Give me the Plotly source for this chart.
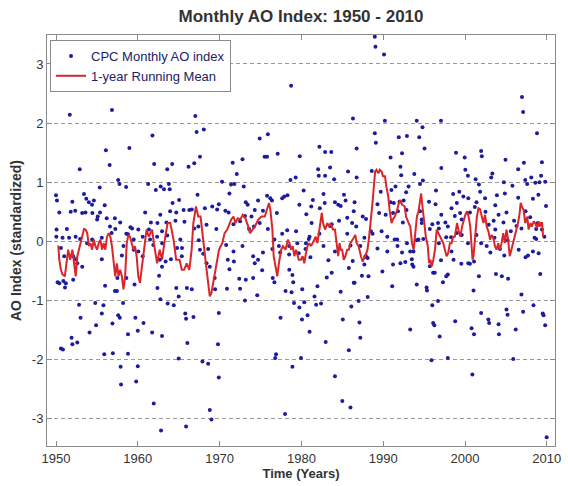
import plotly.graph_objects as go

# ---- data ----
dot_years = [
    1958.93, 1951.69, 1956.84, 1956.10, 1958.97, 1952.90, 1956.56, 1957.60, 1957.76, 1958.57,
    1955.35, 1950.00, 1950.12, 1953.42, 1953.70, 1954.02, 1954.63, 1954.40, 1955.95, 1952.00,
    1952.35, 1951.80, 1950.40, 1953.20, 1953.60, 1954.45, 1955.03, 1955.38, 1955.10, 1956.20,
    1957.20, 1956.60, 1957.25, 1959.10, 1959.30, 1960.06, 1960.90, 1950.04, 1950.07, 1950.80,
    1951.33, 1951.60, 1952.40, 1952.95, 1953.80, 1956.80, 1958.60, 1958.80, 1959.50, 1950.60,
    1951.00, 1952.10, 1952.40, 1952.60, 1953.20, 1955.60, 1958.05, 1959.50, 1960.60, 1950.20,
    1950.40, 1950.90, 1951.10, 1952.10, 1956.00, 1957.20, 1957.45, 1957.50, 1958.60, 1959.60,
    1952.82, 1953.00, 1954.80, 1955.80, 1955.60, 1957.60, 1957.80, 1958.20, 1959.70, 1960.70,
    1960.00, 1954.10, 1954.90, 1956.90, 1958.80, 1950.60, 1950.85, 1951.90, 1952.00, 1952.60,
    1955.90, 1956.95, 1958.80, 1957.90, 1960.00, 1957.95, 1959.80,
    1957.85, 1954.42, 1955.60, 1958.25, 1960.06, 1960.60, 1951.20,
    # 1961 - 1973
    1967.03, 1967.19, 1968.07, 1961.79, 1962.00, 1963.60, 1964.20, 1966.20, 1966.90, 1967.60,
    1971.60, 1972.80, 1972.10, 1970.30, 1961.27, 1962.80, 1963.80, 1963.90, 1963.20, 1967.30,
    1965.05, 1971.40, 1971.80, 1972.95, 1971.20, 1973.20, 1962.20, 1964.25, 1963.95, 1964.70,
    1965.60, 1966.30, 1966.60, 1968.20, 1969.10, 1969.70, 1969.90, 1970.70, 1971.10, 1962.75,
    1961.60, 1962.40, 1963.50, 1964.60, 1965.70, 1966.90, 1967.40, 1968.40, 1969.60, 1971.70,
    1973.10, 1972.50, 1973.60, 1962.96, 1963.60, 1965.20, 1961.50, 1961.90, 1964.80, 1965.40,
    1967.45, 1967.60, 1968.60, 1970.80, 1971.70, 1972.80, 1962.70, 1963.40, 1964.05, 1962.96,
    1962.60, 1968.00, 1968.40, 1968.80, 1971.00, 1971.20, 1971.75, 1972.40, 1973.20, 1962.40,
    1964.70, 1965.00, 1966.00, 1966.60, 1969.40, 1969.45, 1970.90, 1972.50, 1973.10, 1962.76,
    1963.65, 1964.40, 1965.80, 1965.90, 1966.80, 1969.90, 1961.75, 1962.96, 1966.06, 1969.80,
    1965.00, 1967.90, 1968.60, 1969.90, 1961.95, 1962.84, 1965.90, 1968.80, 1969.00,
    1973.43, 1961.35, 1962.36, 1962.98, 1965.38,
    # 1974 - 1986
    1978.74, 1986.30, 1974.90, 1975.90, 1975.50, 1975.80, 1977.10, 1979.80, 1982.20, 1982.90,
    1983.65, 1978.66, 1979.30, 1982.04, 1982.12, 1982.90, 1983.50, 1984.00, 1985.70, 1980.27,
    1975.80, 1976.20, 1976.40, 1974.70, 1977.65, 1977.90, 1978.30, 1979.75, 1981.40, 1982.70,
    1982.85, 1982.25, 1984.10, 1984.50, 1984.80, 1985.20, 1985.40, 1986.40, 1974.30, 1973.90,
    1975.30, 1977.00, 1981.20, 1980.60, 1983.70, 1984.60, 1985.60, 1974.90, 1974.20, 1977.65,
    1978.26, 1979.35, 1981.25, 1981.00, 1983.50, 1985.60, 1975.90, 1976.70, 1977.25, 1978.50,
    1979.50, 1980.55, 1982.70, 1984.10, 1986.00, 1974.10, 1974.30, 1974.70, 1975.30, 1977.40,
    1978.50, 1980.50, 1981.10, 1983.30, 1985.80, 1974.10, 1975.20, 1976.50, 1976.70, 1978.52,
    1978.90, 1979.00, 1980.10, 1981.96, 1983.10, 1986.40, 1974.60, 1978.06, 1978.80, 1979.10,
    1979.75, 1980.35, 1981.60, 1981.80, 1982.40, 1984.80, 1986.10, 1977.45, 1980.07, 1980.75,
    1981.00, 1982.97, 1985.06, 1976.90, 1976.80, 1979.95, 1985.80, 1978.90, 1984.10, 1985.00,
    1986.00, 1978.00,
    1982.20, 1980.90, 1983.70, 1979.67, 1986.20, 1976.45,
    # 1986 - 1998
    1988.97, 1989.05, 1990.10, 1986.75, 1990.20, 1994.10, 1994.80, 1997.06, 1988.97, 1989.10,
    1991.90, 1992.90, 1994.40, 1995.05, 1998.90, 1990.90, 1992.30, 1992.10, 1992.20, 1993.80,
    1997.10, 1986.75, 1988.60, 1994.50, 1994.85, 1993.10, 1991.50, 1989.70, 1991.00, 1996.45,
    1998.55, 1992.80, 1986.50, 1990.90, 1991.30, 1992.50, 1991.99, 1992.85, 1995.60, 1996.40,
    1989.30, 1987.50, 1987.90, 1989.50, 1990.30, 1991.20, 1991.80, 1994.50, 1994.70, 1998.35,
    1998.75, 1997.10, 1992.40, 1996.00, 1996.70, 1997.60, 1997.90, 1995.70, 1997.70, 1998.30,
    1986.70, 1988.50, 1989.80, 1990.50, 1991.40, 1991.70, 1992.90, 1994.10, 1994.30, 1994.90,
    1996.80, 1987.70, 1987.20, 1989.30, 1990.50, 1991.75, 1992.30, 1993.30, 1993.50, 1992.70,
    1987.90, 1998.35, 1997.06, 1997.70, 1997.90, 1998.60, 1986.27, 1987.70, 1989.90, 1991.20,
    1992.10, 1993.55, 1995.70, 1996.30, 1986.50, 1987.40, 1988.20, 1991.10, 1994.10, 1995.30,
    1995.35, 1996.00, 1996.70, 1997.30, 1987.00, 1988.10, 1987.10, 1987.20, 1993.30, 1996.10,
    1996.25, 1996.90, 1998.80, 1995.90, 1997.90,
    1994.70, 1996.80, 1988.70, 1993.70, 1987.80, 1988.10, 1993.70, 1996.10,
    # 1999 - 2009
    2006.96, 2007.10, 2008.80, 1999.96, 2001.97, 2002.05, 2004.95, 2007.20, 2009.40, 2006.50,
    2000.04, 2000.36, 2001.30, 2001.70, 2003.20, 2003.34, 2004.75, 2005.80, 2007.36, 2007.60,
    2008.10, 2008.60, 2009.30, 2009.80, 1999.30, 2001.85, 2003.90, 2004.87, 2006.50, 2008.30,
    2008.97, 2009.90, 1999.00, 1999.80, 2000.40, 2001.20, 2001.40, 2002.45, 2003.70, 2005.07,
    2004.10, 2006.00, 2007.40, 2008.70, 2008.90, 1999.40, 1999.60, 2000.60, 2002.90, 2002.50,
    2003.50, 2003.70, 2004.70, 2005.60, 2006.30, 2008.50, 2008.70, 2009.40, 2009.70, 1999.00,
    1999.60, 2001.40, 2002.65, 2003.10, 2004.27, 2004.80, 2006.56, 2007.40, 2007.70, 2008.30,
    2009.00, 1999.55, 2000.40, 2000.60, 2001.10, 2001.70, 2001.04, 2003.78, 2004.50, 2005.27,
    2009.20, 2006.90, 2008.37, 2007.10, 2005.07, 2005.20, 2009.50, 2009.60, 2009.80, 2001.97,
    2002.85, 2002.95, 2000.80, 2001.10, 2004.10, 2004.15, 2006.20, 2005.90, 2000.90, 2009.98,
    2000.36, 2001.97, 2003.60, 2005.20, 2006.90, 2007.97, 2009.10,
]

dot_values = [
    2.71, 2.14, 2.22, 1.54, 1.58, 1.22, 1.29, 1.04, 0.97, 0.92,
    0.91, 0.78, 0.69, 0.80, 0.72, 0.66, 0.69, 0.62, 0.61, 0.67,
    0.52, 0.50, 0.49, 0.48, 0.49, 0.48, 0.37, 0.49, 0.42, 0.39,
    0.39, 0.25, 0.21, 0.24, 0.22, 0.20, 0.49, 0.08, 0.20, 0.06,
    0.21, 0.06, 0.08, 0.04, -0.03, 0.14, 0.13, 0.12, 0.03, -0.11,
    -0.25, -0.25, -0.30, -0.37, -0.43, -0.30, -0.24, -0.14, -0.25, -0.69,
    -0.71, -0.67, -0.78, -0.65, -0.75, -0.84, -0.84, -0.62, -0.62, -0.73,
    -1.07, -1.29, -1.04, -1.08, -1.22, -1.25, -1.29, -1.04, -1.29, -1.38,
    -1.51, -1.54, -1.42, -1.39, -1.57, -1.81, -1.83, -1.63, -1.74, -1.71,
    -1.91, -1.89, -1.90, -2.12, -2.11, -2.42, -2.37,
    0.32, 0.03, 0.06, -0.08, -0.17, 0.08, -0.71,
    # 1961 - 1973
    2.12, 1.85, 1.89, 1.79, 1.31, 1.22, 1.31, 1.26, 1.32, 1.43,
    1.33, 1.39, 1.14, 1.01, 0.97, 0.93, 0.97, 0.88, 0.88, 0.79,
    0.70, 0.96, 0.97, 0.93, 0.81, 0.66, 0.87, 0.65, 0.51, 0.49,
    0.53, 0.53, 0.54, 0.56, 0.59, 0.54, 0.63, 0.52, 0.49, 0.45,
    0.32, 0.31, 0.32, 0.35, 0.33, 0.22, 0.25, 0.28, 0.21, 0.29,
    0.43, 0.34, 0.21, 0.17, 0.10, 0.03, 0.03, -0.06, -0.11, -0.11,
    0.02, -0.14, -0.13, -0.06, -0.17, -0.08, -0.31, -0.34, -0.30, -0.43,
    -0.58, -0.21, -0.37, -0.43, -0.31, -0.47, -0.34, -0.63, -0.65, -0.79,
    -0.79, -0.93, -0.79, -0.81, -0.62, -0.81, -0.80, -0.80, -1.00, -0.98,
    -1.05, -1.08, -1.22, -1.31, -1.28, -1.21, -1.54, -1.60, -1.72, -1.74,
    -1.98, -2.03, -2.07, -2.30, -2.74, -3.20, -3.13, -2.85, -3.01,
    0.62, 0.20, 0.08, -0.03, -0.25,
    # 1974 - 1986
    2.63, 2.08, 1.74, 1.81, 1.43, 1.43, 1.48, 1.44, 1.60, 1.51,
    1.51, 1.04, 1.08, 1.22, 1.11, 1.11, 1.25, 1.05, 1.18, 0.86,
    0.77, 0.73, 0.69, 0.69, 0.73, 0.76, 0.78, 0.62, 0.70, 0.80,
    0.65, 0.56, 0.66, 0.62, 0.60, 0.79, 0.69, 0.51, 0.53, 0.42,
    0.52, 0.48, 0.59, 0.46, 0.29, 0.35, 0.40, 0.31, 0.25, 0.13,
    0.19, 0.17, 0.31, 0.08, 0.26, 0.13, 0.21, 0.03, -0.08, -0.08,
    -0.03, -0.03, -0.08, -0.17, -0.07, -0.25, -0.37, -0.31, -0.19, -0.19,
    -0.22, -0.13, -0.27, -0.32, -0.45, -0.62, -0.49, -0.62, -0.69, -0.48,
    -0.57, -0.69, -0.81, -0.76, -0.61, -0.70, -0.91, -0.84, -0.86, -1.04,
    -1.12, -1.03, -0.93, -1.07, -1.05, -0.85, -1.10, -1.29, -1.32, -1.25,
    -1.53, -1.70, -1.32, -1.91, -1.97, -1.97, -1.84, -2.12, -2.28, -2.70,
    -2.81, -2.92,
    0.13, 0.04, -0.53, -0.20, 0.31, -0.13,
    # 1986 - 1998
    3.46, 3.29, 3.16, 1.57, 2.04, 2.04, 1.93, 2.04, 1.83, 1.67,
    1.76, 1.78, 1.76, 1.57, 1.50, 1.42, 1.49, 1.26, 1.12, 1.14,
    1.24, 1.08, 1.19, 0.97, 1.03, 0.93, 0.93, 0.84, 0.87, 0.86,
    0.80, 0.83, 0.66, 0.66, 0.65, 0.69, 0.67, 0.53, 0.67, 0.63,
    0.63, 0.42, 0.38, 0.48, 0.45, 0.48, 0.51, 0.51, 0.37, 0.56,
    0.43, 0.45, 0.32, 0.29, 0.31, 0.32, 0.25, 0.21, 0.07, 0.07,
    0.25, 0.17, 0.17, 0.08, 0.03, 0.03, -0.03, 0.02, 0.03, 0.04,
    -0.03, 0.06, -0.08, -0.12, -0.17, -0.08, -0.19, -0.17, -0.30, -0.35,
    -0.25, -0.17, -0.32, -0.59, -0.56, -0.31, -0.33, -0.39, -0.51, -0.39,
    -0.37, -0.39, -0.42, -0.53, -0.70, -0.58, -0.59, -0.76, -0.73, -0.78,
    -0.83, -1.08, -1.01, -0.69, -1.01, -0.94, -1.37, -1.63, -1.49, -1.38,
    -1.42, -1.61, -1.35, -2.01, -1.97,
    0.31, 0.22, 0.13, -0.17, -0.26, -0.28, -0.43, -0.53,
    # 1999 - 2009
    2.44, 2.19, 1.83, 1.42, 1.53, 1.44, 1.38, 1.33, 1.34, 1.22,
    1.21, 1.11, 1.05, 0.96, 1.08, 1.15, 1.00, 0.94, 1.04, 0.97,
    1.08, 0.99, 1.11, 1.01, 0.84, 0.84, 0.78, 0.81, 0.74, 0.72,
    0.79, 0.60, 0.65, 0.76, 0.73, 0.58, 0.66, 0.73, 0.61, 0.49,
    0.45, 0.35, 0.51, 0.21, 0.31, 0.48, 0.37, 0.49, 0.28, 0.50,
    0.35, 0.20, 0.32, 0.17, 0.26, 0.06, 0.04, 0.20, 0.08, 0.14,
    0.11, 0.11, -0.08, -0.19, -0.13, -0.24, -0.14, -0.27, -0.24, -0.17,
    -0.20, -0.38, -0.37, -0.38, -0.34, -0.59, -0.83, -0.55, -0.59, -0.63,
    -0.55, -0.90, -1.08, -1.19, -1.15, -1.24, -1.22, -1.25, -1.42, -1.21,
    -1.32, -1.38, -1.47, -1.57, -1.40, -1.57, -1.49, -1.99, -2.25, -3.31,
    -0.03, -0.03, 0.06, 0.02, 0.22, 0.41, 1.00,
]

mean_years = [
    1950.28, 1950.40, 1950.60, 1950.80, 1951.08, 1951.32, 1951.49, 1951.73, 1952.01, 1952.21,
    1952.41, 1952.61, 1952.81, 1953.01, 1953.21, 1953.42, 1953.62, 1953.82, 1954.02, 1954.22,
    1954.42, 1954.62, 1954.82, 1955.02, 1955.23, 1955.43, 1955.63, 1955.83, 1956.03, 1956.24,
    1956.44, 1956.64, 1956.84, 1957.04, 1957.24, 1957.44, 1957.64, 1957.85, 1958.05, 1958.25,
    1958.45, 1958.65, 1958.85, 1959.05, 1959.26, 1959.46, 1959.66, 1959.86, 1960.06, 1960.26,
    1960.46, 1960.66, 1960.87, 1961.07,
    1961.35, 1961.75, 1961.96, 1962.36, 1962.68, 1962.96, 1963.36, 1963.65, 1963.97, 1964.37,
    1964.69, 1965.10, 1965.38, 1965.66, 1965.98, 1966.30, 1966.58, 1966.79, 1967.11, 1967.39,
    1967.67, 1967.99, 1968.32, 1968.60, 1968.80, 1969.00, 1969.20, 1969.40, 1969.60, 1969.93,
    1970.33, 1970.61, 1970.93, 1971.42, 1971.70, 1971.94, 1972.22, 1972.54, 1972.82, 1973.15,
    1973.43, 1973.71,
    1974.03, 1974.31, 1974.72, 1975.12, 1975.52, 1975.80, 1976.04, 1976.21, 1976.45, 1976.61,
    1976.85, 1977.05, 1977.25, 1977.53, 1977.74, 1978.06, 1978.34, 1978.54, 1978.74, 1978.94,
    1979.14, 1979.35, 1979.67, 1979.95, 1980.15, 1980.35, 1980.55, 1980.75, 1980.96, 1981.16,
    1981.36, 1981.76, 1981.96, 1982.24, 1982.49, 1982.65, 1982.89, 1983.17, 1983.37, 1983.57,
    1983.85, 1984.10, 1984.26, 1984.50, 1984.66, 1984.82, 1984.98, 1985.18, 1985.38, 1985.59,
    1985.79, 1985.99, 1986.27,
    1986.59, 1986.75, 1986.99, 1987.28, 1987.48, 1987.80, 1988.08, 1988.28, 1988.48, 1988.69,
    1988.89, 1989.01, 1989.17, 1989.41, 1989.57, 1989.81, 1989.97, 1990.22, 1990.38, 1990.62,
    1990.78, 1991.02, 1991.18, 1991.42, 1991.70, 1991.91, 1992.11, 1992.31, 1992.63, 1992.79,
    1993.11, 1993.31, 1993.52, 1993.72, 1993.92, 1994.12, 1994.32, 1994.52, 1994.64, 1994.80,
    1995.05, 1995.21, 1995.45, 1995.61, 1995.77, 1995.93, 1996.13, 1996.33, 1996.54, 1996.74,
    1996.94, 1997.14, 1997.34, 1997.54, 1997.74, 1997.94, 1998.15, 1998.35, 1998.55, 1998.75,
    1999.03, 1999.23, 1999.43, 1999.64, 1999.84, 2000.04, 2000.24, 2000.44, 2000.64, 2000.76,
    2000.92, 2001.04, 2001.16, 2001.33, 2001.45, 2001.65, 2001.85, 2002.05, 2002.25, 2002.45,
    2002.65, 2002.86, 2003.06, 2003.26, 2003.46, 2003.66, 2003.86, 2004.06, 2004.26, 2004.47,
    2004.67, 2004.87, 2005.07, 2005.27, 2005.47, 2005.67, 2005.88, 2006.08, 2006.28, 2006.48,
    2006.68, 2006.80, 2006.96, 2007.16, 2007.36, 2007.61, 2007.77, 2008.01, 2008.17, 2008.41,
    2008.57, 2008.81, 2008.98, 2009.14, 2009.30, 2009.42, 2009.54,
]

mean_values = [
    -0.07, -0.31, -0.48, -0.56, -0.59, -0.31, -0.14, -0.31, -0.14, -0.37,
    -0.59, -0.25, -0.14, -0.03, 0.08, 0.21, 0.20, 0.14, -0.08, -0.03,
    -0.14, 0.03, -0.08, -0.14, -0.03, 0.03, -0.14, -0.03, -0.14, 0.08,
    0.14, 0.08, -0.08, -0.31, -0.59, -0.37, -0.59, -0.48, -0.59, -0.81,
    -0.59, -0.03, 0.11, 0.08, -0.03, -0.14, -0.08, -0.25, -0.59, -0.70,
    -0.48, -0.25, -0.03, 0.20,
    0.08, 0.20, -0.03, -0.37, -0.14, -0.31, 0.08, 0.31, 0.31, 0.03,
    -0.31, -0.31, -0.48, -0.48, -0.37, -0.48, -0.14, 0.31, 0.59, 0.42,
    0.42, 0.08, -0.37, -0.70, -0.93, -0.87, -0.70, -0.53, -0.37, -0.14,
    -0.03, 0.14, 0.20, 0.37, 0.42, 0.31, 0.39, 0.37, 0.45, 0.39,
    0.28, 0.14,
    0.20, 0.25, 0.37, 0.42, 0.42, 0.53, 0.65, 0.53, 0.20, -0.25,
    -0.48, -0.59, -0.37, -0.14, -0.08, -0.14, 0.03, -0.03, -0.14, -0.08,
    -0.25, -0.14, -0.31, -0.31, -0.25, -0.37, -0.20, -0.08, -0.03, -0.08,
    -0.03, 0.08, -0.03, 0.25, 0.48, 0.31, 0.20, 0.31, 0.25, 0.31,
    0.20, 0.20, -0.03, -0.25, -0.03, -0.14, -0.14, -0.31, -0.25, -0.14,
    -0.14, -0.03, 0.03,
    0.11, -0.03, -0.08, -0.25, -0.34, -0.25, -0.14, 0.08, 0.31, 0.65,
    0.98, 1.18, 1.21, 1.15, 1.21, 1.18, 1.10, 1.10, 0.93, 0.76,
    0.53, 0.31, 0.37, 0.42, 0.53, 0.65, 0.70, 0.62, 0.59, 0.42,
    0.31, 0.25, -0.03, -0.14, 0.14, 0.42, 0.51, 0.70, 0.81, 0.59,
    0.20, 0.08, -0.08, -0.37, -0.31, -0.42, -0.31, -0.14, 0.20, 0.14,
    0.08, 0.03, -0.03, -0.14, -0.25, -0.20, -0.03, -0.03, 0.08, 0.08,
    0.31, 0.17, 0.08, 0.25, 0.37, 0.45, 0.51, 0.42, 0.25, -0.03,
    -0.31, -0.25, -0.03, 0.20, 0.42, 0.56, 0.54, 0.42, 0.31, 0.45,
    0.25, 0.17, 0.03, 0.11, 0.06, -0.08, -0.14, -0.03, -0.14, -0.03,
    0.14, -0.03, 0.20, 0.03, -0.25, -0.14, -0.03, 0.08, 0.20, 0.31,
    0.48, 0.65, 0.59, 0.53, 0.31, 0.42, 0.20, 0.31, 0.25, 0.34,
    0.31, 0.22, 0.34, 0.25, 0.31, 0.31, 0.08,
]

y_ticks = [-3, -2, -1, 0, 1, 2, 3]
y_tick_labels = ["-3", "-2", "-1", "0", "1", "2", "3"]
x_ticks = [1950, 1960, 1970, 1980, 1990, 2000, 2010]

FONT = "Liberation Sans, Arial, Helvetica, sans-serif"

fig = go.Figure()
fig.add_trace(go.Scatter(
    x=dot_years, y=dot_values, mode="markers", name="CPC Monthly AO index",
    marker=dict(color="#1c1c9c", size=4),
))
fig.add_trace(go.Scatter(
    x=mean_years, y=mean_values, mode="lines", name="1-year Running Mean",
    line=dict(color="#d8262b", width=2),
))

fig.update_layout(
    width=568, height=486,
    margin=dict(l=47, r=7, t=35, b=39),
    paper_bgcolor="white", plot_bgcolor="white",
    font=dict(family=FONT, size=13, color="#333333"),
    title=dict(text="Monthly AO Index: 1950 - 2010", x=0.5, xref="paper", xanchor="center",
               y=0.967, yref="container", yanchor="middle",
               font=dict(family=FONT, size=17, color="#333333", weight="bold")),
    legend=dict(x=0.006, y=0.988, xanchor="left", yanchor="top",
                bordercolor="#8a8a8a", borderwidth=1, bgcolor="white",
                font=dict(family=FONT, size=13, color="#222266"),
                tracegroupgap=0, itemwidth=30),
    showlegend=True,
)
fig.update_xaxes(
    range=[1948.9, 2011.0], tickvals=x_ticks, ticks="inside", ticklen=5,
    tickcolor="#8a8a8a", showline=True, linecolor="#8a8a8a", linewidth=1, mirror="ticks",
    showgrid=False, zeroline=False,
    title=dict(text="<b>Time (Years)</b>", font=dict(family=FONT, size=13, color="#333333"), standoff=4),
)
fig.update_yaxes(
    range=[-3.46, 3.49], tickvals=y_ticks, ticktext=y_tick_labels, ticks="inside", ticklen=5,
    tickcolor="#8a8a8a", showline=True, linecolor="#8a8a8a", linewidth=1, mirror="ticks",
    showgrid=True, gridcolor="#9a9a9a", griddash="4px,3px", gridwidth=1, zeroline=False,
    title=dict(text="<b>AO Index (standardized)</b>", font=dict(family=FONT, size=14, color="#333333"), standoff=6),
)

fig.write_html("out.html", config={"displayModeBar": False},
               post_script="document.body.style.margin='0px';")
